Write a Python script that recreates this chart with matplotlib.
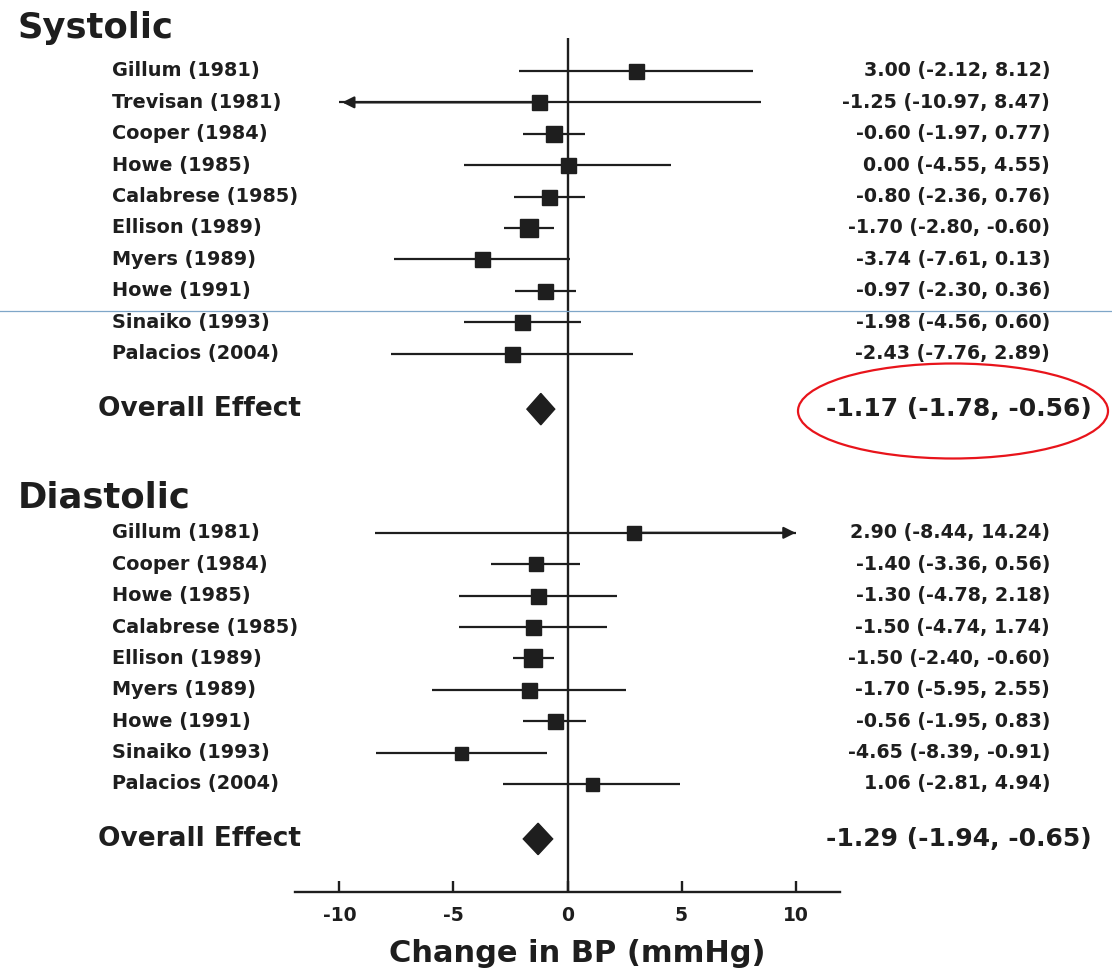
import matplotlib
matplotlib.use("Agg")
import matplotlib.pyplot as plt
from matplotlib.patches import Polygon, Ellipse
from matplotlib.lines import Line2D
from matplotlib.transforms import blended_transform_factory

# ---------------- data ----------------
sys_studies = ["Gillum (1981)", "Trevisan (1981)", "Cooper (1984)", "Howe (1985)",
               "Calabrese (1985)", "Ellison (1989)", "Myers (1989)", "Howe (1991)",
               "Sinaiko (1993)", "Palacios (2004)"]
sys_est = [3.00, -1.25, -0.60, 0.00, -0.80, -1.70, -3.74, -0.97, -1.98, -2.43]
sys_lo = [-2.12, -10.97, -1.97, -4.55, -2.36, -2.80, -7.61, -2.30, -4.56, -7.76]
sys_hi = [8.12, 8.47, 0.77, 4.55, 0.76, -0.60, 0.13, 0.36, 0.60, 2.89]
sys_weight = [15, 15, 16, 15, 15, 18, 15, 15, 15, 15]
sys_overall = (-1.17, -1.78, -0.56)

dia_studies = ["Gillum (1981)", "Cooper (1984)", "Howe (1985)", "Calabrese (1985)",
               "Ellison (1989)", "Myers (1989)", "Howe (1991)", "Sinaiko (1993)",
               "Palacios (2004)"]
dia_est = [2.90, -1.40, -1.30, -1.50, -1.50, -1.70, -0.56, -4.65, 1.06]
dia_lo = [-8.44, -3.36, -4.78, -4.74, -2.40, -5.95, -1.95, -8.39, -2.81]
dia_hi = [14.24, 0.56, 2.18, 1.74, -0.60, 2.55, 0.83, -0.91, 4.94]
dia_weight = [14, 14, 15, 15, 18, 15, 15, 13, 13]
dia_overall = (-1.29, -1.94, -0.65)

xticks = [-10, -5, 0, 5, 10]
xticklabels = ["-10", "-5", "0", "5", "10"]
xlabel = "Change in BP (mmHg)"
clip = 10

# ---------------- style ----------------
W, H = 1112, 975
INK = "#1e1e1e"
FONT = "DejaVu Sans"
plt.rcParams["font.family"] = [FONT]

fig = plt.figure(figsize=(W / 100, H / 100), dpi=100)
ax = fig.add_axes([295 / W, 1 - 892 / H, (840 - 295) / W, (892 - 38) / H])
ax.set_xlim(-11.95, 11.95)
ax.set_ylim(26.15, -1.05)

for s in ["top", "right", "left"]:
    ax.spines[s].set_visible(False)
ax.spines["bottom"].set_linewidth(1.7)
ax.spines["bottom"].set_color(INK)
ax.set_yticks([])
ax.set_xticks(xticks)
ax.set_xticklabels(xticklabels, fontsize=13.5, fontweight="bold", color=INK)
ax.tick_params(axis="x", direction="in", length=8, width=1.7, color=INK, pad=10)
ax.set_xlabel(xlabel, fontsize=22, fontweight="bold", color=INK)
ax.xaxis.set_label_coords((577 - 295) / (840 - 295), -(953 - 892) / (892 - 38))
ax.xaxis.label.set_va("center")
ax.axvline(0, color=INK, lw=1.7, zorder=1)

# row layout
sys_y = [i for i in range(len(sys_studies))]
sys_oy = sys_y[-1] + 1.77
dia_y = [14.71 + i for i in range(len(dia_studies))]
dia_oy = dia_y[-1] + 1.75
sys_hy = -1.37
dia_hy = 13.57

tl = blended_transform_factory(fig.transFigure, ax.transData)


def fmt(v):
    return f"{v:.2f}"


def draw_rows(studies, est, lo, hi, wts, ys):
    for name, e, l, h, w, y in zip(studies, est, lo, hi, wts, ys):
        lo_c = max(l, -clip)
        hi_c = min(h, clip)
        ax.plot([lo_c, hi_c], [y, y], color=INK, lw=1.6, zorder=2,
                solid_capstyle="butt")
        if l < -clip:
            ax.annotate("", xy=(-clip + 0.12, y), xytext=(e, y),
                        arrowprops=dict(arrowstyle="-|>,head_length=0.7,head_width=0.35",
                                        color=INK, lw=1.6, shrinkA=0, shrinkB=0))
        if h > clip:
            ax.annotate("", xy=(clip, y), xytext=(e, y),
                        arrowprops=dict(arrowstyle="-|>,head_length=0.7,head_width=0.35",
                                        color=INK, lw=1.6, shrinkA=0, shrinkB=0))
        ax.plot([e], [y], marker="s", ms=w * 0.72, color=INK, mec=INK, zorder=3)
        ax.text(112 / W, y, name, transform=tl, ha="left", va="center",
                fontsize=13.9, fontweight="bold", color=INK)
        ax.text(1050 / W, y, f"{fmt(e)} ({fmt(l)}, {fmt(h)})", transform=tl,
                ha="right", va="center", fontsize=13.7, fontweight="bold", color=INK)


def draw_overall(ov, y):
    e, l, h = ov
    d = 0.5
    ax.add_patch(Polygon([(l, y), (e, y - d), (h, y), (e, y + d)], closed=True,
                         facecolor=INK, edgecolor=INK, lw=1.0, zorder=3))
    ax.text(98 / W, y, "Overall Effect", transform=tl, ha="left", va="center",
            fontsize=19, fontweight="bold", color=INK)
    ax.text(1092 / W, y, f"{fmt(e)} ({fmt(l)}, {fmt(h)})", transform=tl,
            ha="right", va="center", fontsize=18, fontweight="bold", color=INK)


draw_rows(sys_studies, sys_est, sys_lo, sys_hi, sys_weight, sys_y)
draw_overall(sys_overall, sys_oy)
draw_rows(dia_studies, dia_est, dia_lo, dia_hi, dia_weight, dia_y)
draw_overall(dia_overall, dia_oy)

ax.text(18 / W, sys_hy, "Systolic", transform=tl, ha="left", va="center",
        fontsize=25.5, fontweight="bold", color=INK)
ax.text(18 / W, dia_hy, "Diastolic", transform=tl, ha="left", va="center",
        fontsize=25.5, fontweight="bold", color=INK)

# annotation overlays
fig.add_artist(Line2D([0, 1], [1 - 310.5 / H, 1 - 310.5 / H], transform=fig.transFigure,
                      color="#7fa6c8", lw=0.9))
fig.add_artist(Ellipse((953 / W, 1 - 411 / H), 310 / W, 95 / H, transform=fig.transFigure,
                       fill=False, edgecolor="#e8141b", lw=1.6))

fig.savefig("out.png", dpi=100)
